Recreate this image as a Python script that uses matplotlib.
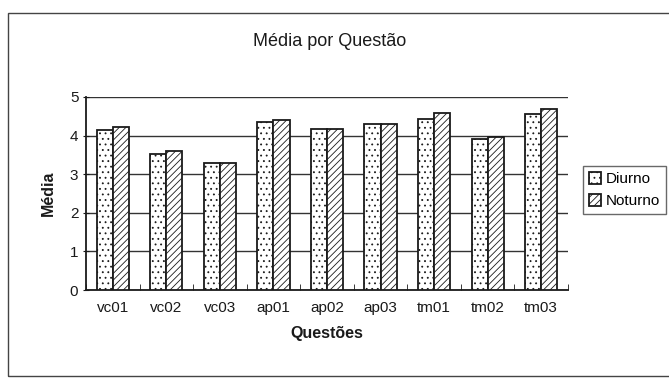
import matplotlib
matplotlib.use("Agg")
import matplotlib.pyplot as plt
import numpy as np
from matplotlib.patches import Rectangle

plt.rcParams['font.family'] = ['Liberation Sans', 'DejaVu Sans']
plt.rcParams['hatch.linewidth'] = 0.6

questoes = ["vc01", "vc02", "vc03", "ap01", "ap02", "ap03", "tm01", "tm02", "tm03"]
diurno = [4.15, 3.52, 3.28, 4.34, 4.18, 4.30, 4.44, 3.92, 4.55]
noturno = [4.23, 3.59, 3.28, 4.41, 4.18, 4.29, 4.59, 3.97, 4.68]
yticks = [0, 1, 2, 3, 4, 5]

W, H = 669, 378
ink = "#1a1a1a"
fig = plt.figure(figsize=(W / 100, H / 100), dpi=100)
fig.patch.set_facecolor("white")

# outer chart frame
fig.patches.append(Rectangle((8 / W, 0.004), 1.2, (H - 13) / H - 0.004,
                             transform=fig.transFigure, fill=False,
                             edgecolor="#444444", linewidth=1.0))

ax = fig.add_axes([86 / W, 1 - 290 / H, (568 - 86) / W, (290 - 97) / H])
x = np.arange(len(questoes))
w = 0.30
ax.bar(x - w / 2, diurno, w, facecolor="white", edgecolor=ink,
       hatch="...", linewidth=1.3, label="Diurno", zorder=3)
ax.bar(x + w / 2, noturno, w, facecolor="white", edgecolor=ink,
       hatch="/////", linewidth=1.3, label="Noturno", zorder=3)

ax.set_xlim(-0.5, len(questoes) - 0.5)
ax.set_ylim(0, 5)
ax.set_yticks(yticks)
ax.set_xticks(x)
ax.set_xticklabels(questoes, fontsize=11, color=ink)
ax.tick_params(axis="y", labelsize=11, colors=ink, length=4, direction="inout")
ax.set_xticks(np.arange(-0.5, len(questoes), 1.0), minor=True)
ax.tick_params(axis="x", which="major", length=0, pad=8)
ax.tick_params(axis="x", which="minor", length=4, direction="in", color=ink)
ax.yaxis.grid(True, color="#333333", linewidth=1.0, zorder=0)
for s in ["top", "right"]:
    ax.spines[s].set_visible(False)
for s in ["left", "bottom"]:
    ax.spines[s].set_linewidth(1.3)
    ax.spines[s].set_color(ink)

ax.set_xlabel("Questões", fontsize=11.5, fontweight="bold", color=ink, labelpad=8)
ax.set_ylabel("Média", fontsize=11.5, fontweight="bold", color=ink, labelpad=10)

fig.text(330 / W, 1 - 42 / H, "Média por Questão", ha="center", va="center",
         fontsize=13, color=ink)

leg = ax.legend(loc="center left", bbox_to_anchor=(583 / W, 1 - 190 / H),
                bbox_transform=fig.transFigure, frameon=True, fancybox=False,
                fontsize=11, handlelength=0.8, handleheight=0.8,
                handletextpad=0.3, borderpad=0.4, labelspacing=0.5,
                borderaxespad=0)
leg.get_frame().set_edgecolor("#444444")
leg.get_frame().set_linewidth(1.0)

fig.savefig("out.png", dpi=100, facecolor="white")
